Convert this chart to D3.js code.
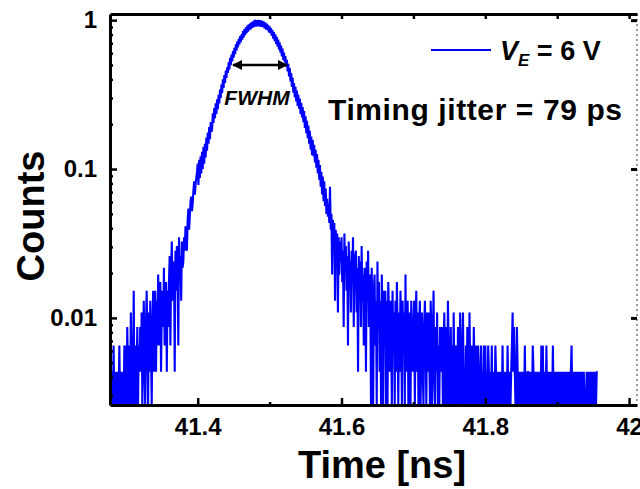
<!DOCTYPE html>
<html>
<head>
<meta charset="utf-8">
<script src="https://cdn.jsdelivr.net/npm/d3@7"></script>
<style>
  body { margin: 0; background: #fff; }
  svg { display: block; font-family: "Liberation Sans", Arial, sans-serif; }
  .axis text { font-weight: bold; font-size: 24px; fill: #000; }
</style>
</head>
<body>
<div id="chart"></div>
<script>
var width = 640, height = 489;
var margin = {top: 14, right: 3, bottom: 84, left: 110};

// histogram: start of first bin and bin width (ns), counts per 1 ps bin
var binStart = 41.280;
var binWidth = 0.001;
var peakNorm = 460;
var counts = [
  2,0,1,3,0,2,1,0,2,1,0,3,1,2,0,1,2,0,3,1,
  3,1,4,2,0,3,1,5,2,0,2,7,1,3,0,2,4,1,3,2,
  4,2,5,1,3,6,2,0,4,7,3,1,5,2,6,3,0,4,7,2,
  4,7,2,6,3,9,5,3,8,2,5,7,4,10,3,6,8,2,7,4,
  8,12,3,10,15,6,9,11,2,13,7,14,10,3,16,9,12,6,15,10,
  11,16,13,19,15,13,21,25,18,22,28,30,24,27,33,38,31,36,40,44,
  50,36,53,40,56,43,60,46,65,50,68,55,75,61,81,68,88,73,95,82,
  85,109,94,118,101,127,108,135,116,145,127,157,138,170,149,184,161,197,174,211,
  188,222,203,240,214,257,229,270,243,285,258,300,272,316,287,330,302,345,316,359,
  327,369,340,388,352,401,365,412,376,423,385,431,394,437,401,447,408,452,413,457,
  458,416,461,419,462,418,460,417,458,414,455,413,450,405,443,397,436,394,427,381,
  418,376,407,361,395,346,382,333,369,318,355,306,341,291,326,278,311,263,296,249,
  279,240,264,224,249,208,234,193,219,178,203,164,189,150,174,139,164,131,155,122,
  145,117,137,108,128,102,120,95,113,87,104,80,97,74,90,68,83,62,76,57,
  72,56,67,51,62,47,58,43,53,39,49,35,44,31,41,28,38,26,34,23,
  29,22,27,20,35,18,23,9,21,14,20,6,18,11,17,5,16,9,15,11,
  16,8,13,4,17,10,14,7,12,3,15,9,11,5,13,8,16,4,10,12,
  13,5,10,2,12,7,11,4,14,6,9,3,10,8,2,11,6,13,4,9,
  8,0,10,5,1,7,9,3,6,0,11,4,8,2,6,1,9,5,0,7,
  4,7,1,6,0,8,5,2,6,4,0,7,3,5,1,6,2,8,4,0,
  5,2,7,4,1,6,3,5,0,9,2,4,6,1,5,3,0,6,4,2,
  3,6,1,4,7,2,5,0,4,6,1,3,5,2,0,4,6,3,1,5,
  2,5,3,0,6,4,1,3,7,2,0,4,2,5,1,3,0,4,2,3,
  4,1,3,5,0,2,4,1,6,3,0,2,4,1,3,0,5,2,1,3,
  2,0,4,3,1,5,2,0,3,5,1,2,0,3,1,4,2,0,5,2,
  1,3,2,0,4,2,1,3,0,2,3,1,0,2,3,1,2,0,3,1,
  3,0,2,1,3,2,0,2,1,3,0,2,1,0,3,2,0,1,2,0,
  2,0,2,1,3,0,2,1,0,2,1,3,0,2,1,0,2,3,5,2,
  4,2,0,1,4,2,1,0,2,1,2,0,1,2,0,3,1,2,0,2,
  2,0,1,2,0,1,3,2,0,1,2,0,1,2,0,2,1,0,3,1,
  3,1,2,0,1,3,0,2,1,0,2,1,2,0,3,1,0,2,1,0,
  2,0,1,2,0,1,2,0,2,1,0,2,1,0,2,0,1,2,0,2,
  3,0,1,2,0,1,2,0,1,2,0,2,1,0,2,0,1,2,0,1,
  0,2,1,0,2,0,1,2,0,2,1,0,2,0,1,2,2
];

var xDomain = [41.278, 42.011];
var yDomain = [0.0026, 1.1];
var xMajor = [41.4, 41.6, 41.8, 42.0];
var xMajorLabels = ["41.4", "41.6", "41.8", "42"];
var xMinor = [41.5, 41.7, 41.9];
var yMajor = [1, 0.1, 0.01];
var yMajorLabels = ["1", "0.1", "0.01"];
var yMinor = [0.003, 0.004, 0.005, 0.006, 0.007, 0.008, 0.009,
              0.02, 0.03, 0.04, 0.05, 0.06, 0.07, 0.08, 0.09,
              0.2, 0.3, 0.4, 0.5, 0.6, 0.7, 0.8, 0.9];

var data = counts.map(function(c, i) {
  return {t: binStart + i * binWidth, v: c / peakNorm};
});

var svg = d3.select("#chart")
  .append("svg")
  .attr("width", width)
  .attr("height", height);

var x = d3.scaleLinear()
  .domain(xDomain)
  .range([margin.left, width - margin.right]);

var y = d3.scaleLog()
  .domain(yDomain)
  .range([height - margin.bottom, margin.top]);

var x0 = margin.left, x1 = width - margin.right;
var y0 = height - margin.bottom, y1 = margin.top;

var defs = svg.append("defs");
defs.append("clipPath").attr("id", "clip")
  .append("rect")
  .attr("x", x0).attr("y", y1)
  .attr("width", x1 - x0).attr("height", y0 - y1);

// trace
var line = d3.line()
  .x(function(d) { return x(d.t); })
  .y(function(d) { return y(Math.max(d.v, yDomain[0])); });

svg.append("path")
  .datum(data)
  .attr("clip-path", "url(#clip)")
  .attr("d", line)
  .attr("fill", "none")
  .attr("stroke", "#0000ff")
  .attr("stroke-width", 2.1)
  .attr("stroke-linejoin", "bevel");

// right frame (dotted)
svg.append("line")
  .attr("x1", x1).attr("x2", x1)
  .attr("y1", y1).attr("y2", y0)
  .attr("stroke", "#777")
  .attr("stroke-width", 1.5)
  .attr("stroke-dasharray", "2,3");

svg.append("g")
  .attr("transform", `translate(${x1},0)`)
  .call(d3.axisRight(y).tickValues(yMajor).tickSizeInner(-6).tickSizeOuter(0).tickFormat(""))
  .call(g => g.select(".domain").remove())
  .selectAll("line").attr("stroke", "#000").attr("stroke-width", 3);

// bottom axis
svg.append("g")
  .attr("class", "axis")
  .attr("transform", `translate(0,${y0})`)
  .call(d3.axisBottom(x)
    .tickValues(xMajor)
    .tickSizeInner(-7)
    .tickSizeOuter(0)
    .tickPadding(13)
    .tickFormat(function(d, i) { return xMajorLabels[i]; }));

svg.append("g")
  .attr("class", "axis")
  .attr("transform", `translate(0,${y0})`)
  .call(d3.axisBottom(x).tickValues(xMinor).tickSizeInner(-3).tickSizeOuter(0).tickFormat(""))
  .call(g => g.select(".domain").remove());

// top axis
svg.append("g")
  .attr("class", "axis")
  .attr("transform", `translate(0,${y1})`)
  .call(d3.axisTop(x).tickValues(xMajor.concat(xMinor)).tickSizeInner(-5).tickSizeOuter(0).tickFormat(""));

// left axis
svg.append("g")
  .attr("class", "axis")
  .attr("transform", `translate(${x0},0)`)
  .call(d3.axisLeft(y)
    .tickValues(yMajor)
    .tickSizeInner(-7)
    .tickSizeOuter(0)
    .tickPadding(13)
    .tickFormat(function(d, i) { return yMajorLabels[i]; }));

svg.append("g")
  .attr("class", "axis")
  .attr("transform", `translate(${x0},0)`)
  .call(d3.axisLeft(y).tickValues(yMinor).tickSizeInner(-3).tickSizeOuter(0).tickFormat(""))
  .call(g => g.select(".domain").remove());

svg.selectAll(".axis .domain").attr("stroke", "#000").attr("stroke-width", 3);
svg.selectAll(".axis line").attr("stroke", "#000").attr("stroke-width", 2.5);

// axis titles
svg.append("text")
  .attr("text-anchor", "middle")
  .attr("transform", `translate(${44},${216}) rotate(-90)`)
  .style("font-size", "38px")
  .style("font-weight", "bold")
  .text("Counts");

svg.append("text")
  .attr("text-anchor", "middle")
  .attr("x", 382)
  .attr("y", 478)
  .style("font-size", "38px")
  .style("font-weight", "bold")
  .text("Time [ns]");

// legend
svg.append("line")
  .attr("x1", 431).attr("x2", 491)
  .attr("y1", 50).attr("y2", 50)
  .attr("stroke", "#0000ff")
  .attr("stroke-width", 2);

var leg = svg.append("text")
  .attr("x", 500)
  .attr("y", 60)
  .style("font-size", "27px")
  .style("font-weight", "bold");
leg.append("tspan").style("font-style", "italic").text("V");
leg.append("tspan").style("font-style", "italic").style("font-size", "17px").attr("dy", 6).text("E");
leg.append("tspan").attr("dy", -6).text(" = 6 V");

svg.append("text")
  .attr("x", 328)
  .attr("y", 120)
  .style("font-size", "30px")
  .style("font-weight", "bold")
  .style("letter-spacing", "0.6px")
  .text("Timing jitter = 79 ps");

// FWHM annotation
defs.append("marker")
  .attr("id", "arr")
  .attr("viewBox", "0 0 10 10")
  .attr("refX", 9).attr("refY", 5)
  .attr("markerWidth", 4).attr("markerHeight", 4)
  .attr("orient", "auto-start-reverse")
  .append("path")
  .attr("d", "M0,0 L10,5 L0,10 z")
  .attr("fill", "#000");

svg.append("line")
  .attr("x1", 233).attr("x2", 287)
  .attr("y1", 65).attr("y2", 65)
  .attr("stroke", "#000")
  .attr("stroke-width", 2.5)
  .attr("marker-start", "url(#arr)")
  .attr("marker-end", "url(#arr)");

svg.append("text")
  .attr("x", 257)
  .attr("y", 105)
  .attr("text-anchor", "middle")
  .style("font-size", "21px")
  .style("font-weight", "bold")
  .style("font-style", "italic")
  .text("FWHM");
</script>
</body>
</html>
